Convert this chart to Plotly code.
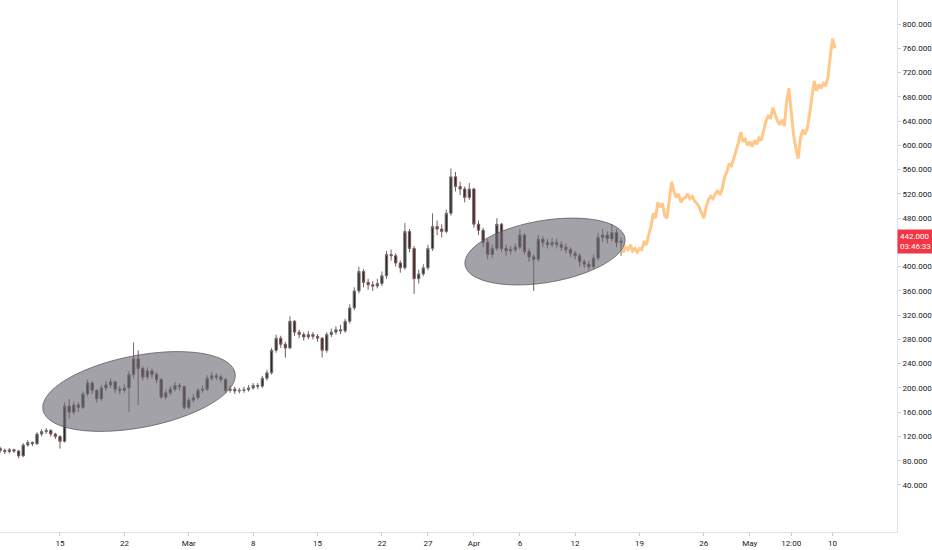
import numpy as np
import pandas as pd
import plotly.graph_objects as go

# candles, 12h bars
bar_times = pd.date_range("2021-02-08 12:00", periods=136, freq="12h")

opens = [100, 97, 95, 98, 96, 88, 106, 110, 108, 124,
         128, 130, 124, 120, 112, 170, 160, 172, 168, 190,
         208, 196, 182, 200, 205, 210, 198, 196, 200, 222,
         248, 232, 218, 228, 222, 214, 185, 192, 198, 204,
         202, 168, 180, 184, 196, 198, 216, 220, 218, 214,
         196, 198, 195, 196, 197, 200, 204, 203, 216, 225,
         262, 282, 272, 266, 310, 292, 288, 284, 288, 285,
         282, 262, 288, 292, 296, 294, 310, 332, 360, 392,
         374, 370, 368, 372, 385, 420, 418, 406, 398, 458,
         430, 380, 388, 398, 430, 466, 462, 458, 488, 548,
         532, 528, 514, 528, 470, 460, 440, 420, 430, 470,
         430, 426, 428, 432, 452, 425, 416, 412, 445, 440,
         436, 440, 436, 432, 428, 422, 418, 408, 404, 400,
         414, 448, 452, 446, 456, 440]

highs = [103, 100, 101, 100, 98, 109, 114, 112, 127, 132,
         134, 132, 126, 122, 176, 182, 178, 176, 194, 214,
         211, 198, 205, 212, 216, 212, 203, 206, 228, 275,
         262, 236, 234, 232, 226, 216, 197, 203, 210, 208,
         204, 184, 190, 200, 204, 221, 226, 224, 222, 216,
         204, 202, 200, 202, 205, 208, 208, 220, 230, 266,
         288, 286, 276, 318, 312, 296, 292, 294, 292, 289,
         284, 292, 298, 302, 304, 314, 338, 366, 400, 396,
         380, 376, 380, 392, 426, 428, 422, 410, 472, 462,
         434, 395, 404, 436, 488, 476, 470, 494, 562, 556,
         540, 532, 538, 530, 476, 464, 446, 436, 480, 472,
         436, 434, 438, 462, 455, 430, 420, 452, 450, 446,
         448, 446, 442, 438, 432, 426, 422, 412, 410, 420,
         456, 462, 458, 470, 462, 448]

lows = [93, 91, 92, 93, 84, 86, 103, 104, 106, 120,
        124, 120, 116, 100, 110, 150, 156, 160, 165, 186,
        190, 176, 179, 195, 200, 192, 190, 192, 160, 216,
        172, 212, 214, 216, 208, 182, 181, 188, 194, 196,
        164, 165, 176, 181, 192, 195, 212, 213, 209, 192,
        192, 190, 191, 192, 194, 197, 198, 200, 212, 222,
        258, 266, 250, 264, 286, 282, 278, 280, 280, 276,
        250, 258, 284, 288, 289, 291, 306, 328, 356, 366,
        362, 360, 364, 368, 380, 410, 400, 390, 395, 424,
        355, 372, 384, 394, 426, 452, 448, 455, 484, 524,
        518, 506, 510, 464, 452, 432, 412, 414, 426, 424,
        418, 420, 424, 428, 420, 408, 360, 408, 432, 430,
        432, 430, 426, 422, 416, 412, 400, 398, 394, 396,
        410, 440, 438, 442, 432, 418]

closes = [97, 95, 98, 96, 88, 106, 110, 108, 124, 128,
          130, 124, 120, 112, 170, 160, 172, 168, 190, 208,
          196, 182, 200, 205, 210, 198, 196, 200, 222, 248,
          232, 218, 228, 222, 214, 185, 192, 198, 204, 202,
          168, 180, 184, 196, 198, 216, 220, 218, 214, 196,
          198, 195, 196, 197, 200, 204, 203, 216, 225, 262,
          282, 272, 266, 310, 292, 288, 284, 288, 285, 282,
          262, 288, 292, 296, 294, 310, 332, 360, 392, 374,
          370, 368, 372, 385, 420, 418, 406, 398, 458, 430,
          380, 388, 398, 430, 466, 462, 458, 488, 548, 532,
          528, 514, 528, 470, 460, 440, 420, 430, 470, 430,
          426, 428, 432, 452, 425, 416, 412, 445, 440, 436,
          440, 436, 432, 428, 422, 418, 408, 404, 400, 414,
          448, 452, 446, 456, 440, 442]

# projected path (orange), 6h steps
proj_times = pd.date_range("2021-04-17 00:00", periods=94, freq="6h")
proj_values = [430, 424, 432, 428, 436, 426, 430, 424, 430, 428,
               440, 436, 452, 466, 488, 480, 506, 498, 504, 484,
               480, 512, 540, 524, 514, 520, 506, 512, 514, 520,
               512, 516, 508, 504, 498, 488, 480, 498, 510, 516,
               512, 520, 526, 518, 528, 548, 556, 570, 566, 578,
               590, 604, 622, 606, 610, 600, 606, 598, 608, 602,
               612, 608, 624, 640, 648, 644, 662, 650, 640, 634,
               642, 632, 672, 694, 660, 618, 596, 578, 612, 626,
               618, 628, 652, 680, 706, 690, 700, 694, 702, 698,
               712, 748, 776, 760]

last_price = 442
countdown = "03:46:33"

x_tickvals = ["2021-02-15", "2021-02-22", "2021-03-01", "2021-03-08", "2021-03-15",
              "2021-03-22", "2021-03-27", "2021-04-01", "2021-04-06", "2021-04-12",
              "2021-04-19", "2021-04-26", "2021-05-01", "2021-05-05 12:00", "2021-05-10"]
x_ticktext = ["15", "22", "Mar", "8", "15", "22", "27", "Apr", "6", "12",
              "19", "26", "May", "12:00", "10"]
# 440 sits under the last-price tag, so it is not labelled
y_tickvals = [40, 80, 120, 160, 200, 240, 280, 320, 360, 400,
              480, 520, 560, 600, 640, 680, 720, 760, 800]

W, H = 932, 550
PLOT_W, PLOT_H = 897, 532
FONT = "Roboto"


def ellipse_path(cx, cy, a, b, angle_deg, n=80):
    # tilted ellipse drawn in pixel space, returned in paper coords
    t = np.linspace(0, 2 * np.pi, n)
    ang = np.radians(angle_deg)
    px = cx + a * np.cos(t) * np.cos(ang) - b * np.sin(t) * np.sin(ang)
    py = cy + a * np.cos(t) * np.sin(ang) + b * np.sin(t) * np.cos(ang)
    pts = [f"{x / PLOT_W:.4f},{1 - y / PLOT_H:.4f}" for x, y in zip(px, py)]
    return "M " + " L ".join(pts) + " Z"


fig = go.Figure()

fig.add_trace(go.Candlestick(
    x=bar_times, open=opens, high=highs, low=lows, close=closes,
    increasing=dict(line=dict(color="#6e6e6e", width=1), fillcolor="#2a2a2a"),
    decreasing=dict(line=dict(color="#7a5a5a", width=1), fillcolor="#3a2626"),
    whiskerwidth=0, hoverinfo="skip", showlegend=False,
))

fig.add_trace(go.Scatter(
    x=proj_times, y=proj_values, mode="lines",
    line=dict(color="#ffc888", width=3),
    hoverinfo="skip", showlegend=False,
))

ellipse_style = dict(type="path", xref="paper", yref="paper", layer="above",
                     fillcolor="rgba(105,105,114,0.62)",
                     line=dict(color="rgba(85,85,95,0.75)", width=1))
fig.add_shape(path=ellipse_path(139, 391.5, 97.8, 36, -10.9), **ellipse_style)
fig.add_shape(path=ellipse_path(545, 251.5, 81.1, 31, -9.6), **ellipse_style)

# last price tag on the price scale
fig.add_annotation(
    x=1, xref="paper", xanchor="left", y=last_price, yref="y", yanchor="middle",
    text=f"{last_price:.3f}<br>{countdown}", showarrow=False, align="left",
    font=dict(family=FONT, size=8, color="white"),
    bgcolor="#f23645", borderpad=2,
)

fig.update_layout(
    width=W, height=H,
    margin=dict(l=0, r=W - PLOT_W, t=0, b=H - PLOT_H),
    paper_bgcolor="white", plot_bgcolor="white",
    font=dict(family=FONT, size=8, color="#131722"),
    xaxis=dict(
        range=["2021-02-08 11:28", "2021-05-17 00:00"],
        rangeslider=dict(visible=False),
        tickvals=x_tickvals, ticktext=x_ticktext,
        showgrid=False, zeroline=False,
        showline=True, linecolor="#e0e3eb", linewidth=1,
        ticks="outside", ticklen=3, tickcolor="#c8cbd3",
        tickfont=dict(size=8),
    ),
    yaxis=dict(
        side="right", range=[-37.5, 839.6],
        tickvals=y_tickvals, tickformat=".3f",
        showgrid=False, zeroline=False,
        showline=True, linecolor="#e0e3eb", linewidth=1,
        ticks="outside", ticklen=3, tickcolor="#c8cbd3",
        tickfont=dict(size=8),
    ),
)

# page body has an 8px default margin; drop it so the figure fills the window
fig.write_html("out.html", config={"displayModeBar": False},
               post_script="document.body.style.margin='0';")
